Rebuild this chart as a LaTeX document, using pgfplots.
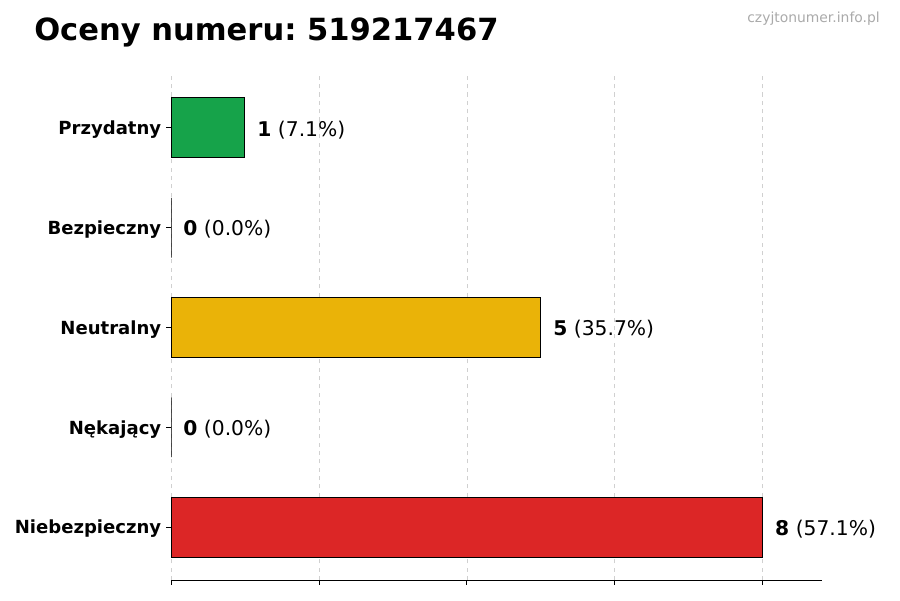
\documentclass[border=0pt]{standalone}
\usepackage{pgfplots}
\pgfplotsset{compat=1.18}
\usepackage{fontspec}
\setmainfont{DejaVu Sans}
\frenchspacing
\definecolor{cgreen}{HTML}{16A34A}
\definecolor{cyellow}{HTML}{EAB308}
\definecolor{cred}{HTML}{DC2626}
\definecolor{cgrid}{HTML}{D0D0D0}
\definecolor{cmark}{HTML}{AAAAAA}
% 1 px of the 900x600 reference = 0.72pt
\begin{document}
\begin{tikzpicture}
\begin{axis}[
    scale only axis,
    width=468.7pt, height=363.6pt,
    clip=false,
    xmin=0, xmax=8.8,
    ymin=-0.53, ymax=4.53,
    xbar, bar width=0.6, bar shift=0pt,
    axis x line*=bottom, axis y line*=left,
    y axis line style={draw=none},
    x axis line style={line width=0.72pt},
    xtick={0,2,4,6,8}, xticklabels={},
    ytick={0,1,2,3,4},
    yticklabels={Niebezpieczny,Nękający,Neutralny,Bezpieczny,Przydatny},
    yticklabel style={font=\bfseries\fontsize{13}{15}\selectfont,yshift=-1.4pt},
    major tick length=3.5pt,
    tick align=outside,
    tick style={black,line width=0.6pt},
    xmajorgrids=true,
    grid style={dashed,cgrid,line width=0.5pt},
    point meta=explicit symbolic,
    nodes near coords,
    every node near coord/.append style={anchor=west,inner sep=0pt,xshift=8.6pt,yshift=-1.4pt,text=black,font=\fontsize{14.6}{17}\selectfont},
]
\addplot[fill=cgreen,draw=black,line width=0.7pt] coordinates {(1,4) [\textbf{1} (7.1\%)]};
\addplot[fill=gray,draw=black,line width=0.7pt] coordinates {(0,3) [\textbf{0} (0.0\%)]};
\addplot[fill=cyellow,draw=black,line width=0.7pt] coordinates {(5,2) [\textbf{5} (35.7\%)]};
\addplot[fill=gray,draw=black,line width=0.7pt] coordinates {(0,1) [\textbf{0} (0.0\%)]};
\addplot[fill=cred,draw=black,line width=0.7pt] coordinates {(8,0) [\textbf{8} (57.1\%)]};

% page frame and texts, placed from the axis corner (171px, 580px)
\path (rel axis cs:0,0) ++(-123.12pt,-14.4pt) rectangle ++(648pt,432pt);
\node[anchor=base west,inner sep=0pt,font=\bfseries\fontsize{22}{24}\selectfont]
    at ([shift={(-98.64pt,388.08pt)}]rel axis cs:0,0) {Oceny numeru: 519217467};
\node[anchor=base east,inner sep=0pt,text=cmark,font=\fontsize{10}{12}\selectfont]
    at ([shift={(510.48pt,401.4pt)}]rel axis cs:0,0) {czyjtonumer.info.pl};
\end{axis}
\end{tikzpicture}
\end{document}
